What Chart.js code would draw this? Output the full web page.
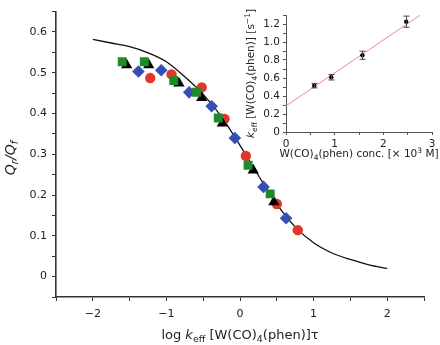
<!DOCTYPE html>
<html><head><meta charset="utf-8">
<script src="https://cdn.jsdelivr.net/npm/chart.js@4.4.0/dist/chart.umd.min.js"></script>
<style>
html,body{margin:0;padding:0;background:#fff;}
#wrap{position:relative;width:440px;height:345px;overflow:hidden;}
#main{position:absolute;left:0;top:0;}
#inset{position:absolute;left:240px;top:0;}
</style></head><body>
<div id="wrap"><canvas id="main" width="440" height="345"></canvas><canvas id="inset" width="200" height="170"></canvas></div>
<script>
// ---- main chart data ----
const curveX = [-2, -1.75, -1.5, -1.25, -1, -0.75, -0.5, -0.25, 0, 0.25, 0.5, 0.75, 1, 1.25, 1.5, 1.75, 2];
const curveY = [0.582, 0.573, 0.564, 0.549, 0.527, 0.490, 0.447, 0.392, 0.322, 0.248, 0.178, 0.122, 0.083, 0.058, 0.042, 0.029, 0.020];
const redX = [-1.22, -0.93, -0.52, -0.21, 0.08, 0.50, 0.785];
const redY = [0.487, 0.496, 0.464, 0.387, 0.296, 0.178, 0.114];
const blueX = [-1.38, -1.07, -0.69, -0.385, -0.07, 0.32, 0.626];
const blueY = [0.503, 0.506, 0.452, 0.418, 0.340, 0.220, 0.143];
const greenX = [-1.60, -1.30, -0.90, -0.59, -0.295, 0.11, 0.41];
const greenY = [0.527, 0.527, 0.481, 0.452, 0.389, 0.273, 0.203];
const blackX = [-1.54, -1.24, -0.83, -0.52, -0.24, 0.18, 0.46];
const blackY = [0.519, 0.519, 0.474, 0.439, 0.376, 0.261, 0.183];
const mainXTicks = [-2, -1, 0, 1, 2];
const mainXTickLabels = ['\u22122', '\u22121', '0', '1', '2'];
const mainYTicks = [0, 0.1, 0.2, 0.3, 0.4, 0.5, 0.6];
const mainYTickLabels = ['0', '0.1', '0.2', '0.3', '0.4', '0.5', '0.6'];
// ---- inset data ----
const concX = [0.58, 0.93, 1.57, 2.47];
const kEff = [0.515, 0.608, 0.853, 1.226];
const kErr = [0.025, 0.03, 0.045, 0.062];
const fitX = [0, 2.76];
const fitY = [0.29, 1.30];
const insetXTicks = [0, 1, 2, 3];
const insetXTickLabels = ['0', '1', '2', '3'];
const insetYTicks = [0, 0.2, 0.4, 0.6, 0.8, 1.0, 1.2];
const insetYTickLabels = ['0', '0.2', '0.4', '0.6', '0.8', '1.0', '1.2'];

const FAM = '"DejaVu Sans", "Liberation Sans", Arial, sans-serif';
const TXT = '#222';
const AX = '#333';
const pts = (xs, ys) => xs.map((x, i) => ({x, y: ys[i]}));
function labelFor(v, ticks, labels) {
  for (let i = 0; i < ticks.length; i++) if (Math.abs(v - ticks[i]) < 1e-6) return labels[i];
  return '';
}
function drawRich(ctx, segs, x, y, rot) {
  ctx.save();
  ctx.translate(x, y);
  if (rot) ctx.rotate(rot);
  let total = 0;
  const f = s => (s[2] ? 'italic ' : '') + s[1] + 'px ' + FAM;
  segs.forEach(s => { ctx.font = f(s); s.w = ctx.measureText(s[0]).width; total += s.w; });
  let cx = -total / 2;
  ctx.textAlign = 'left'; ctx.textBaseline = 'alphabetic'; ctx.fillStyle = TXT;
  segs.forEach(s => { ctx.font = f(s); ctx.fillText(s[0], cx, s[3] || 0); cx += s.w; });
  ctx.restore();
}

const mainTitles = {
  id: 'mainTitles',
  afterDraw(chart) {
    const ctx = chart.ctx, a = chart.chartArea;
    const cxm = (a.left + a.right) / 2;
    drawRich(ctx, [['log ', 13], ['k', 13, true], ['eff', 9.5, false, 3], [' [W(CO)', 13], ['4', 9.5, false, 3], ['(phen)]\u03c4', 13]], cxm, 339, 0);
    drawRich(ctx, [['Q', 14, true], ['r', 10, true, 3], ['/', 14, true], ['Q', 14, true], ['f', 10, true, 3]], 15, 158, -Math.PI / 2);
  }
};
const insetExtras = {
  id: 'insetExtras',
  afterDatasetsDraw(chart) {
    const ctx = chart.ctx, xs = chart.scales.x, ys = chart.scales.y;
    ctx.save();
    ctx.strokeStyle = '#444'; ctx.lineWidth = 1;
    for (let i = 0; i < concX.length; i++) {
      const px = Math.round(xs.getPixelForValue(concX[i])) + 0.5;
      const y1 = ys.getPixelForValue(kEff[i] - kErr[i]);
      const y2 = ys.getPixelForValue(kEff[i] + kErr[i]);
      ctx.beginPath();
      ctx.moveTo(px, y1); ctx.lineTo(px, y2);
      ctx.moveTo(px - 3, y1); ctx.lineTo(px + 3, y1);
      ctx.moveTo(px - 3, y2); ctx.lineTo(px + 3, y2);
      ctx.stroke();
    }
    ctx.restore();
  },
  afterDraw(chart) {
    const ctx = chart.ctx, a = chart.chartArea;
    const cxm = (a.left + a.right) / 2;
    drawRich(ctx, [['W(CO)', 10.5], ['4', 7.5, false, 2.5], ['(phen) conc. [\u00d7 10', 10.5], ['3', 7.5, false, -4], [' M]', 10.5]], cxm, 157, 0);
    drawRich(ctx, [['k', 10.5, true], ['eff', 7.5, false, 2.5], [' [W(CO)', 10.5], ['4', 7.5, false, 2.5], ['(phen)] [s', 10.5], ['\u22121', 7.5, false, -4], [']', 10.5]], 14, (a.top + a.bottom) / 2, -Math.PI / 2);
  }
};

Chart.defaults.font.family = FAM;
Chart.defaults.color = TXT;

new Chart(document.getElementById('main'), {
  type: 'scatter',
  data: {
    datasets: [
      {data: pts(greenX, greenY), pointStyle: 'rect', pointRadius: 6.3, backgroundColor: '#1f8a2c', borderColor: '#1f8a2c', borderWidth: 0, order: 1},
      {data: pts(blackX, blackY), pointStyle: 'triangle', pointRadius: 6.5, backgroundColor: '#000', borderColor: '#000', borderWidth: 0, order: 2},
      {data: pts(blueX, blueY), pointStyle: 'rectRot', pointRadius: 6.3, backgroundColor: '#3550b4', borderColor: '#3550b4', borderWidth: 0, order: 3},
      {data: pts(redX, redY), pointStyle: 'circle', pointRadius: 5.2, backgroundColor: '#e3362b', borderColor: '#e3362b', borderWidth: 0, order: 4},
      {data: pts(curveX, curveY), showLine: true, pointRadius: 0, borderColor: '#111', borderWidth: 1.3, cubicInterpolationMode: 'monotone', fill: false, order: 5}
    ]
  },
  options: {
    responsive: false, animation: false, events: [],
    layout: {padding: {top: 2, right: 16, left: 0, bottom: 0}},
    plugins: {legend: {display: false}, tooltip: {enabled: false}},
    scales: {
      x: {
        type: 'linear', min: -2.5, max: 2.5,
        ticks: {stepSize: 0.5, autoSkip: false, maxRotation: 0, padding: 7, color: TXT, font: {size: 11, family: FAM},
          callback: v => labelFor(v, mainXTicks, mainXTickLabels)},
        grid: {drawOnChartArea: false, drawTicks: true, tickLength: 4, color: AX, lineWidth: 1},
        border: {display: true, color: AX, width: 1.6},
        afterFit: s => { s.height = 48; }
      },
      y: {
        type: 'linear', min: -0.05, max: 0.65,
        ticks: {stepSize: 0.05, autoSkip: false, padding: 5, color: TXT, font: {size: 11, family: FAM},
          callback: v => labelFor(v, mainYTicks, mainYTickLabels)},
        grid: {drawOnChartArea: false, drawTicks: true, tickLength: 4, color: AX, lineWidth: 1},
        border: {display: true, color: AX, width: 1.6},
        afterFit: s => { s.width = 56; }
      }
    }
  },
  plugins: [mainTitles]
});

new Chart(document.getElementById('inset'), {
  type: 'scatter',
  data: {
    datasets: [
      {data: pts(concX, kEff), pointStyle: 'circle', pointRadius: 2.2, backgroundColor: '#000', borderWidth: 0, order: 1},
      {data: pts(fitX, fitY), showLine: true, pointRadius: 0, borderColor: '#f08a7e', borderWidth: 1, order: 2}
    ]
  },
  options: {
    responsive: false, animation: false, events: [],
    layout: {padding: {top: 15, right: 8, left: 0, bottom: 0}},
    plugins: {legend: {display: false}, tooltip: {enabled: false}},
    scales: {
      x: {
        type: 'linear', min: 0, max: 3,
        ticks: {stepSize: 0.5, autoSkip: false, maxRotation: 0, padding: 3, color: TXT, font: {size: 10.5, family: FAM},
          callback: v => labelFor(v, insetXTicks, insetXTickLabels)},
        grid: {drawOnChartArea: false, drawTicks: true, tickLength: 3, color: '#555', lineWidth: 1},
        border: {display: true, color: '#555', width: 1},
        afterFit: s => { s.height = 38; }
      },
      y: {
        type: 'linear', min: 0, max: 1.3,
        ticks: {stepSize: 0.1, autoSkip: false, padding: 3, color: TXT, font: {size: 10.5, family: FAM},
          callback: v => labelFor(v, insetYTicks, insetYTickLabels)},
        grid: {drawOnChartArea: false, drawTicks: true, tickLength: 3, color: '#555', lineWidth: 1},
        border: {display: true, color: '#555', width: 1},
        afterFit: s => { s.width = 46; }
      }
    }
  },
  plugins: [insetExtras]
});
</script>
</body></html>
